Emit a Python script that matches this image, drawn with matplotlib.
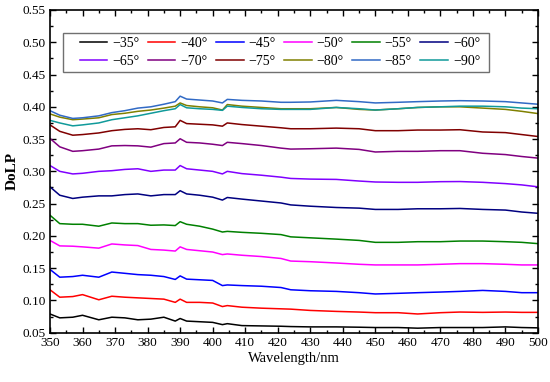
import matplotlib
matplotlib.use('Agg')
import matplotlib.pyplot as plt
from matplotlib.patches import Rectangle
from matplotlib.ticker import MultipleLocator, FormatStrFormatter

plt.rcParams['font.family'] = ['Liberation Serif', 'DejaVu Serif']

wavelength = [350, 353, 357, 360, 365, 369, 373, 377, 381, 385, 388.5, 390, 392, 396, 400,
              403, 404.5, 409, 415, 421, 424, 430, 438, 445, 450, 457, 463, 470, 476, 483,
              490, 495, 500]

angles = ['−35°', '−40°', '−45°', '−50°', '−55°', '−60°',
          '−65°', '−70°', '−75°', '−80°', '−85°', '−90°']

dolp_35 = [0.079, 0.073, 0.074, 0.077, 0.070, 0.074, 0.073, 0.070, 0.071, 0.074, 0.068, 0.072,
           0.068, 0.067, 0.066, 0.0625, 0.064, 0.061, 0.0605, 0.060, 0.0595, 0.059, 0.059,
           0.0585, 0.058, 0.058, 0.057, 0.058, 0.058, 0.058, 0.059, 0.058, 0.0575]
dolp_40 = [0.1165, 0.105, 0.106, 0.109, 0.101, 0.1065, 0.105, 0.104, 0.103, 0.102, 0.097, 0.102,
           0.097, 0.097, 0.096, 0.0905, 0.092, 0.0895, 0.088, 0.087, 0.0865, 0.0845, 0.083,
           0.082, 0.081, 0.081, 0.079, 0.081, 0.082, 0.0815, 0.082, 0.0815, 0.0815]
dolp_45 = [0.148, 0.136, 0.137, 0.139, 0.136, 0.144, 0.142, 0.140, 0.139, 0.137, 0.1325, 0.138,
           0.133, 0.132, 0.131, 0.123, 0.124, 0.123, 0.122, 0.120, 0.1165, 0.115, 0.114,
           0.112, 0.110, 0.111, 0.112, 0.113, 0.114, 0.1155, 0.114, 0.112, 0.112]
dolp_50 = [0.193, 0.1845, 0.184, 0.183, 0.181, 0.1875, 0.186, 0.185, 0.179, 0.178, 0.1765, 0.183,
           0.179, 0.177, 0.175, 0.171, 0.172, 0.170, 0.168, 0.165, 0.161, 0.160, 0.158,
           0.156, 0.155, 0.155, 0.155, 0.156, 0.157, 0.157, 0.156, 0.155, 0.155]
dolp_55 = [0.232, 0.219, 0.218, 0.218, 0.215, 0.220, 0.219, 0.219, 0.2165, 0.217, 0.216, 0.222,
           0.218, 0.215, 0.2105, 0.206, 0.207, 0.2055, 0.204, 0.202, 0.1985, 0.197, 0.195,
           0.193, 0.190, 0.190, 0.191, 0.191, 0.192, 0.192, 0.191, 0.190, 0.188]
dolp_60 = [0.276, 0.263, 0.258, 0.260, 0.262, 0.262, 0.264, 0.265, 0.262, 0.264, 0.264, 0.270,
           0.265, 0.263, 0.260, 0.2555, 0.2595, 0.257, 0.254, 0.251, 0.248, 0.246, 0.244,
           0.243, 0.241, 0.241, 0.242, 0.242, 0.2425, 0.241, 0.240, 0.237, 0.235]
dolp_65 = [0.309, 0.300, 0.296, 0.297, 0.300, 0.301, 0.303, 0.304, 0.300, 0.302, 0.302, 0.309,
           0.304, 0.302, 0.300, 0.296, 0.300, 0.2965, 0.294, 0.291, 0.289, 0.288, 0.2875,
           0.285, 0.2835, 0.283, 0.283, 0.284, 0.2842, 0.283, 0.281, 0.279, 0.276]
dolp_70 = [0.351, 0.338, 0.331, 0.332, 0.3345, 0.3395, 0.340, 0.3395, 0.3375, 0.343, 0.344, 0.3505,
           0.345, 0.344, 0.342, 0.340, 0.345, 0.343, 0.340, 0.336, 0.3345, 0.335, 0.336,
           0.334, 0.330, 0.331, 0.331, 0.332, 0.332, 0.328, 0.326, 0.323, 0.3205]
dolp_75 = [0.372, 0.362, 0.356, 0.357, 0.3595, 0.363, 0.365, 0.366, 0.3645, 0.368, 0.369, 0.379,
           0.374, 0.373, 0.372, 0.370, 0.375, 0.3725, 0.370, 0.3675, 0.366, 0.366, 0.367,
           0.366, 0.363, 0.363, 0.364, 0.364, 0.3645, 0.361, 0.360, 0.357, 0.354]
dolp_80 = [0.389, 0.384, 0.380, 0.381, 0.383, 0.388, 0.390, 0.393, 0.395, 0.398, 0.401, 0.406,
           0.402, 0.400, 0.3985, 0.395, 0.4035, 0.401, 0.399, 0.397, 0.397, 0.397, 0.399,
           0.396, 0.395, 0.397, 0.399, 0.400, 0.400, 0.398, 0.396, 0.393, 0.3895]
dolp_85 = [0.394, 0.387, 0.382, 0.383, 0.386, 0.391, 0.394, 0.398, 0.400, 0.404, 0.408, 0.4165,
           0.412, 0.4105, 0.409, 0.406, 0.4115, 0.410, 0.409, 0.407, 0.407, 0.4075, 0.410,
           0.408, 0.406, 0.407, 0.408, 0.409, 0.4095, 0.409, 0.408, 0.406, 0.404]
dolp_90 = [0.379, 0.375, 0.3705, 0.372, 0.375, 0.380, 0.383, 0.386, 0.390, 0.394, 0.397, 0.4035,
           0.3985, 0.397, 0.396, 0.3945, 0.401, 0.399, 0.397, 0.396, 0.396, 0.396, 0.399,
           0.397, 0.395, 0.397, 0.399, 0.400, 0.401, 0.401, 0.400, 0.398, 0.397]

series = [dolp_35, dolp_40, dolp_45, dolp_50, dolp_55, dolp_60,
          dolp_65, dolp_70, dolp_75, dolp_80, dolp_85, dolp_90]
colors = ['#000000', '#ff0000', '#0000ff', '#ff00ff', '#008000', '#000080',
          '#8000ff', '#800080', '#800000', '#808000', '#316ac5', '#109a9a']

fig = plt.figure(figsize=(5.5, 3.82), dpi=100)
ax = fig.add_axes([50 / 550, 1 - 332.7 / 382, 488 / 550, 322.7 / 382])

lines = []
for vals, c, lab in zip(series, colors, angles):
    ln, = ax.plot(wavelength, vals, color=c, lw=1.1, label=lab)
    lines.append(ln)

ax.set_xlim(350, 500)
ax.set_ylim(0.05, 0.55)
ax.xaxis.set_major_locator(MultipleLocator(10))
ax.xaxis.set_minor_locator(MultipleLocator(5))
ax.yaxis.set_major_locator(MultipleLocator(0.05))
ax.yaxis.set_minor_locator(MultipleLocator(0.025))
ax.yaxis.set_major_formatter(FormatStrFormatter('%.2f'))
ax.tick_params(which='both', direction='in', top=True, right=True, width=1.0, labelsize=9.5, pad=3)
ax.tick_params(which='major', length=4)
ax.tick_params(which='minor', length=2)
for s in ax.spines.values():
    s.set_linewidth(1.2)

ax.set_xlabel('Wavelength/nm', fontsize=10.5, labelpad=2)
ax.set_ylabel('DoLP', fontsize=11, fontweight='bold', labelpad=3)

# legend box drawn separately so the entries sit centred in a wide frame
ax.add_patch(Rectangle((0.0266, 0.808), 0.873, 0.121, transform=ax.transAxes,
                       fill=False, edgecolor='#707070', lw=1.0, zorder=5))
# legend fills column by column, so interleave to get two rows of six
order = [i + 6 * r for i in range(6) for r in range(2)]
ax.legend([lines[k] for k in order], [angles[k] for k in order],
          ncol=6, loc='center', bbox_to_anchor=(0.471, 0.868), frameon=False,
          fontsize=10, handlelength=2.0, handletextpad=0.35, columnspacing=0.6,
          labelspacing=0.35, borderpad=0)

fig.savefig('out.png', dpi=100)
